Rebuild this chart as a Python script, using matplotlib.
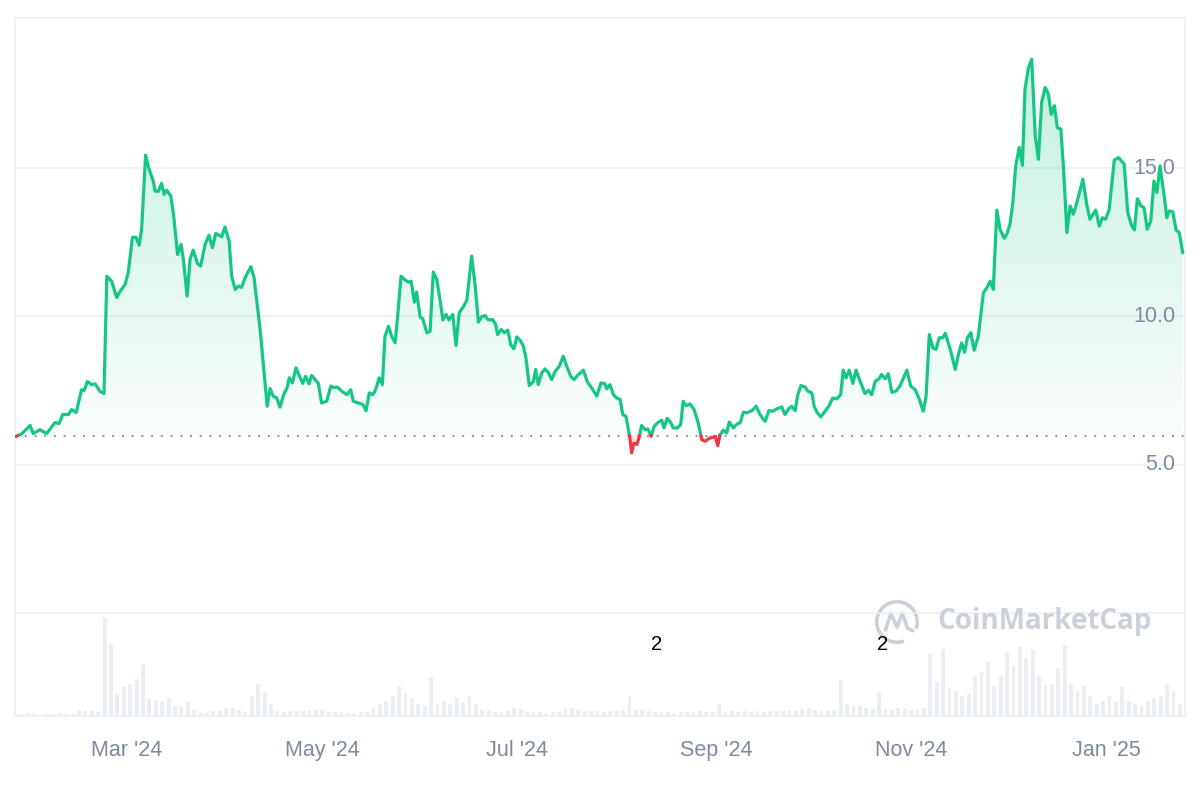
import numpy as np
import pandas as pd
import matplotlib
matplotlib.use("Agg")
import matplotlib.pyplot as plt
import matplotlib.dates as mdates
from matplotlib.path import Path
from matplotlib.patches import PathPatch, Arc
from matplotlib.lines import Line2D


start_date = pd.Timestamp("2024-01-26")
open_price = 5.98

# price path, day offset from start_date -> price (USD)
price_days = [
    0.3, 2.1, 4.7, 5.7, 7.8, 9.9, 12.5, 13.8, 14.9, 16.7,
    17.7, 19.1, 20.8, 21.6, 22.6, 24.0, 25.0, 26.6, 27.8, 28.7,
    30.2, 31.8, 32.6, 34.4, 35.4, 36.7, 37.8, 38.8, 39.6, 40.8,
    41.9, 43.2, 43.8, 44.8, 45.8, 46.6, 47.4, 48.7, 49.7, 50.8,
    51.9, 52.6, 53.8, 54.7, 55.7, 57.0, 58.0, 59.4, 60.6, 61.7,
    62.7, 64.6, 65.6, 66.9, 67.7, 68.8, 69.8, 70.8, 71.9, 73.7,
    74.7, 76.6, 78.8, 79.7, 80.7, 81.8, 82.8, 83.8, 85.1, 85.7,
    86.7, 87.8, 88.8, 89.9, 90.8, 91.9, 92.7, 94.8, 95.8, 97.4,
    98.7, 99.7, 100.7, 102.1, 103.7, 104.9, 105.7, 107.3, 108.7, 109.7,
    110.7, 111.8, 112.7, 113.8, 114.8, 115.6, 116.7, 117.7, 118.8, 119.8,
    120.6, 121.9, 122.9, 123.8, 124.8, 125.5, 126.6, 127.4, 128.7, 129.7,
    130.7, 131.8, 132.8, 133.7, 134.7, 135.6, 136.8, 137.8, 138.8, 140.1,
    141.2, 142.7, 143.8, 144.8, 145.8, 146.9, 147.9, 149.2, 150.2, 150.8,
    151.9, 152.9, 154.0, 154.9, 155.9, 156.8, 157.8, 158.8, 159.7, 160.7,
    162.0, 162.7, 163.5, 164.6, 165.6, 166.7, 167.7, 168.8, 170.1, 171.3,
    172.4, 173.7, 174.7, 176.0, 177.6, 178.8, 180.2, 181.8, 183.1, 184.2,
    184.9, 185.9, 187.0, 188.0, 189.1, 189.9, 190.9, 192.0, 192.7, 193.4,
    194.3, 195.0, 195.8, 196.9, 197.7, 198.8, 199.7, 201.0, 202.1, 202.8,
    203.8, 204.7, 205.7, 207.0, 208.0, 208.8, 209.7, 210.9, 212.2, 213.5,
    214.6, 215.6, 217.2, 218.8, 219.6, 220.3, 221.3, 222.4, 223.2, 224.5,
    225.7, 226.6, 227.6, 228.7, 230.2, 231.6, 232.8, 234.4, 235.6, 236.8,
    238.0, 239.6, 240.6, 241.7, 242.7, 243.8, 244.5, 245.6, 246.9, 247.7,
    249.0, 249.7, 250.7, 251.8, 253.1, 254.4, 255.5, 256.8, 258.0, 258.8,
    259.7, 260.7, 261.8, 262.8, 264.1, 265.6, 266.7, 267.7, 268.8, 270.0,
    270.8, 271.9, 272.9, 274.0, 275.3, 276.6, 278.7, 279.9, 281.3, 282.6,
    283.8, 284.7, 285.7, 286.8, 287.8, 288.8, 289.9, 290.7, 292.4, 293.8,
    294.8, 295.8, 296.7, 297.6, 298.7, 299.7, 301.0, 302.6, 303.7, 304.7,
    305.7, 306.8, 307.8, 309.1, 309.9, 310.9, 311.8, 312.7, 313.8, 314.8,
    315.6, 316.7, 317.7, 318.8, 319.8, 320.8, 321.9, 322.9, 323.8, 324.8,
    325.7, 326.8, 327.6, 328.7, 329.7, 330.7, 331.8, 333.7, 334.9, 335.9,
    337.7, 338.8, 339.8, 340.8, 341.9, 343.5, 344.8, 346.6, 347.7, 349.0,
    349.8, 350.7, 351.8, 352.8, 353.8, 354.9, 355.9, 356.8, 357.8, 359.1,
    359.9, 360.7, 361.8, 362.8, 363.8, 364.9,
]
price_vals = [
    5.95, 6.04, 6.32, 6.05, 6.18, 6.05, 6.42, 6.39, 6.69, 6.69,
    6.86, 6.76, 7.53, 7.50, 7.80, 7.70, 7.73, 7.47, 7.40, 11.36,
    11.19, 10.64, 10.81, 11.08, 11.49, 12.67, 12.67, 12.40, 13.00, 15.44,
    14.97, 14.57, 14.23, 14.22, 14.49, 14.12, 14.26, 14.06, 13.28, 12.09,
    12.43, 11.93, 10.69, 11.93, 12.24, 11.79, 11.70, 12.43, 12.74, 12.32,
    12.80, 12.69, 13.02, 12.55, 11.36, 10.91, 11.03, 10.98, 11.31, 11.68,
    11.31, 9.56, 6.97, 7.57, 7.31, 7.25, 6.94, 7.31, 7.62, 7.93,
    7.76, 8.27, 8.01, 7.74, 7.98, 7.73, 8.01, 7.74, 7.08, 7.14,
    7.65, 7.60, 7.62, 7.48, 7.36, 7.53, 7.14, 7.08, 7.03, 6.82,
    7.42, 7.36, 7.53, 7.93, 7.70, 9.33, 9.67, 9.33, 9.11, 10.29,
    11.36, 11.23, 11.16, 11.19, 10.48, 10.82, 9.99, 9.92, 9.45, 9.50,
    11.50, 11.25, 10.57, 9.88, 10.07, 9.88, 10.07, 9.02, 10.12, 10.33,
    10.55, 12.04, 11.03, 9.81, 9.99, 10.03, 9.88, 9.90, 9.73, 9.39,
    9.56, 9.45, 9.54, 9.05, 8.91, 9.31, 9.20, 9.02, 8.57, 7.67,
    7.81, 8.21, 7.70, 8.10, 8.23, 8.10, 7.87, 8.15, 8.32, 8.66,
    8.32, 7.98, 7.87, 8.04, 8.19, 7.81, 7.59, 7.31, 7.76, 7.74,
    7.56, 7.70, 7.36, 7.25, 7.20, 6.69, 6.63, 6.01, 5.40, 5.73,
    5.68, 5.90, 6.32, 6.18, 6.21, 5.96, 6.29, 6.43, 6.50, 6.24,
    6.56, 6.46, 6.24, 6.24, 6.35, 7.14, 6.99, 7.05, 6.86, 6.41,
    5.84, 5.79, 5.90, 5.95, 5.64, 6.01, 6.16, 6.07, 6.44, 6.24,
    6.38, 6.41, 6.77, 6.75, 6.82, 6.97, 6.69, 6.46, 6.83, 6.80,
    6.88, 6.95, 6.69, 6.88, 6.97, 6.82, 7.31, 7.67, 7.62, 7.48,
    7.42, 6.97, 6.75, 6.61, 6.80, 6.99, 7.25, 7.22, 7.36, 8.19,
    7.93, 8.19, 7.74, 8.19, 7.81, 7.40, 7.51, 7.36, 7.81, 7.90,
    8.04, 7.90, 8.07, 7.44, 7.48, 7.67, 8.19, 7.65, 7.53, 7.20,
    6.80, 7.31, 9.39, 8.94, 8.89, 9.28, 9.28, 9.43, 8.83, 8.21,
    8.72, 9.11, 8.79, 9.28, 9.45, 8.86, 9.33, 10.80, 10.97, 11.19,
    10.91, 13.59, 12.94, 12.64, 12.77, 13.11, 13.84, 15.08, 15.70, 15.10,
    17.67, 18.40, 18.68, 16.09, 15.30, 17.22, 17.73, 17.50, 16.82, 17.11,
    16.37, 16.32, 15.08, 12.83, 13.73, 13.45, 13.84, 14.63, 13.78, 13.28,
    13.59, 13.05, 13.33, 13.28, 13.61, 15.28, 15.36, 15.14, 13.50, 13.05,
    12.92, 13.97, 13.73, 13.67, 12.94, 13.22, 14.57, 14.18, 15.08, 14.06,
    13.33, 13.56, 13.53, 12.92, 12.83, 12.15,
]

# volume, one value per two days (relative units)
vol_days = list(range(0, 366, 2))
vol_vals = [
    2, 2, 3, 2, 1, 2, 2, 3, 2, 2,
    6, 5, 5, 4, 98, 72, 22, 29, 32, 37,
    52, 17, 16, 14, 18, 10, 10, 14, 6, 3,
    3, 5, 5, 8, 8, 6, 4, 20, 32, 24,
    12, 5, 4, 5, 5, 5, 6, 6, 6, 4,
    4, 4, 3, 3, 4, 4, 8, 12, 15, 20,
    30, 22, 18, 12, 10, 39, 12, 15, 12, 18,
    14, 20, 12, 6, 6, 4, 4, 5, 8, 7,
    4, 4, 4, 3, 4, 4, 8, 8, 6, 5,
    5, 5, 4, 5, 5, 6, 20, 6, 6, 5,
    4, 4, 4, 3, 4, 4, 4, 5, 4, 4,
    12, 4, 5, 4, 5, 4, 5, 4, 5, 5,
    5, 6, 5, 7, 8, 6, 5, 5, 6, 36,
    12, 10, 11, 8, 7, 24, 7, 6, 8, 7,
    6, 7, 8, 62, 34, 67, 28, 25, 20, 22,
    40, 44, 54, 30, 40, 64, 50, 69, 58, 66,
    40, 30, 32, 48, 71, 32, 25, 30, 20, 12,
    15, 20, 14, 29, 15, 12, 10, 15, 18, 20,
    32, 25, 12,
]

tick_dates = ["2024-03-01", "2024-05-01", "2024-07-01", "2024-09-01", "2024-11-01", "2025-01-01"]
tick_labels = ["Mar '24", "May '24", "Jul '24", "Sep '24", "Nov '24", "Jan '25"]
price_ticks = [5.0, 10.0, 15.0]
grid_levels = [0, 5, 10, 15]

green = "#16c784"
red = "#ea3943"
grey_txt = "#7f8a9e"
line_grey = "#eef0f3"

plt.rcParams['font.family'] = ['Liberation Sans', 'DejaVu Sans']

fig = plt.figure(figsize=(12, 8), dpi=100)
fig.patch.set_facecolor("white")

ax = fig.add_axes([15 / 1200, 84 / 800, 1170 / 1200, 698 / 800])
ax2 = ax.twinx()
ax.set_zorder(2)
ax.patch.set_visible(False)
ax2.set_zorder(1)

t0 = mdates.date2num(start_date)
x = t0 + np.array(price_days)
y = np.array(price_vals)

# insert crossing points with the open price so colours switch cleanly
xs, ys = [x[0]], [y[0]]
for i in range(1, len(x)):
    a = y[i - 1] - open_price
    b = y[i] - open_price
    if a * b < 0:
        t = a / (a - b)
        xs.append(x[i - 1] + t * (x[i] - x[i - 1]))
        ys.append(open_price)
    xs.append(x[i])
    ys.append(y[i])
xs = np.array(xs)
ys = np.array(ys)

# gradient fill above the open price
ymax = ys.max()
grad = np.linspace(0, 1, 256).reshape(-1, 1)
rgba = np.zeros((256, 1, 4))
rgba[..., :3] = matplotlib.colors.to_rgb(green)
rgba[..., 3] = 0.02 + 0.24 * grad[..., 0:1]
im = ax.imshow(rgba, extent=[xs[0], xs[-1], open_price, ymax], origin="lower",
               aspect="auto", zorder=1, interpolation="bilinear")
top = np.maximum(ys, open_price)
verts = np.column_stack([np.r_[xs, xs[::-1]],
                         np.r_[top, np.full(len(xs), open_price)]])
clip = PathPatch(Path(verts), facecolor="none", edgecolor="none", transform=ax.transData)
ax.add_patch(clip)
im.set_clip_path(clip)

ax.fill_between(xs, ys, open_price, where=ys <= open_price, color=red, alpha=0.12, lw=0, zorder=1)

for g in grid_levels:
    ax.axhline(g, color=line_grey, lw=1.2, zorder=0)

ax.axhline(open_price, color="#8b94a5", lw=1.4, ls=(0, (1, 4)), zorder=2)

ax.plot(xs, np.where(ys >= open_price, ys, np.nan), color=green, lw=2.3, zorder=4,
        solid_joinstyle="round", solid_capstyle="round")
ax.plot(xs, np.where(ys <= open_price, ys, np.nan), color=red, lw=2.3, zorder=4,
        solid_joinstyle="round", solid_capstyle="round")

for p in price_ticks:
    ax.text(0.9915, p, f"{p:.1f}", transform=ax.get_yaxis_transform(), ha="right",
            va="center", fontsize=15.5, color=grey_txt, zorder=3)

ax.set_xlim(t0, t0 + 365.6)
ax.set_ylim(-3.48, 20.07)
ax.set_yticks([])
ax.set_xticks(mdates.date2num(pd.to_datetime(tick_dates)))
ax.set_xticklabels(tick_labels, fontsize=15.5, color=grey_txt)
ax.tick_params(axis="x", length=0, pad=17)
for s in ax.spines.values():
    s.set_color(line_grey)
    s.set_linewidth(1.2)

# volume bars
ax2.bar(t0 + np.array(vol_days), vol_vals, width=1.2, color="#ebeef2", lw=0, align="center")
ax2.set_ylim(0, 698)
ax2.set_yticks([])
for s in ax2.spines.values():
    s.set_visible(False)

# watermark
wm = "#cbd1db"
fig.text(937 / 1200, 1 - 622 / 800, "CoinMarketCap", fontsize=20, fontweight="bold",
         family="Open Sans", color=wm, ha="left", va="center", zorder=5)
lax = fig.add_axes([875 / 1200, 1 - 644 / 800, 44 / 1200, 44 / 800])
lax.set_xlim(0, 1)
lax.set_ylim(0, 1)
lax.axis("off")
lax.add_patch(Arc((0.5, 0.5), 0.92, 0.92, theta1=-20, theta2=290, color=wm, lw=2.6))
lax.add_line(Line2D([0.24, 0.36, 0.5, 0.62, 0.74, 0.86],
                    [0.32, 0.7, 0.38, 0.7, 0.36, 0.3], color=wm, lw=2.6,
                    solid_joinstyle="round", solid_capstyle="round"))

fig.text(657 / 1200, 1 - 644 / 800, "2", fontsize=14.5, color="black", ha="center", va="center")
fig.text(883 / 1200, 1 - 644 / 800, "2", fontsize=14.5, color="black", ha="center", va="center")

fig.savefig("out.png", dpi=100, facecolor="white")
